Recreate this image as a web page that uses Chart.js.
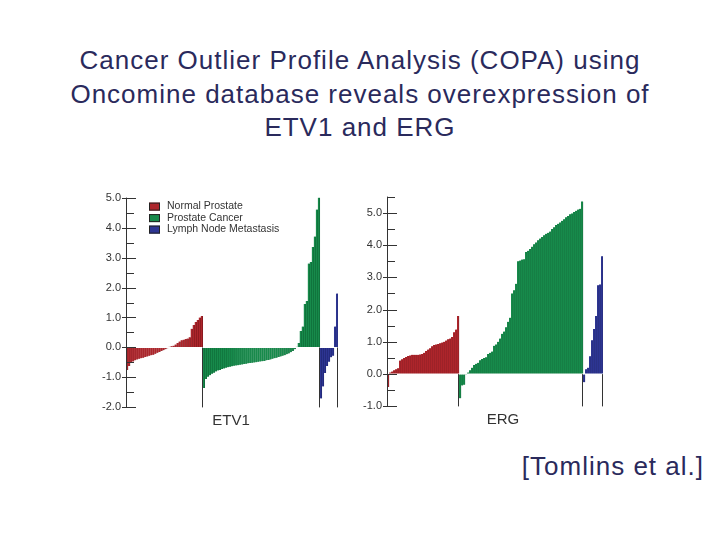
<!DOCTYPE html>
<html>
<head>
<meta charset="utf-8">
<script src="https://cdn.jsdelivr.net/npm/chart.js@4.4.0/dist/chart.umd.min.js"></script>
<style>
  body { margin: 0; background: #fff; }
  #page { position: relative; width: 720px; height: 540px; font-family: "Liberation Sans", Arial, sans-serif; color: #2a2a5c; }
  #title { position: absolute; left: 0; top: 44px; width: 720px; text-align: center; font-size: 26px; line-height: 33.5px; letter-spacing: 1px; }
  #cite { position: absolute; right: 16px; top: 451px; font-size: 26px; line-height: 30px; letter-spacing: 1px; }
  .axisname { position: absolute; font-size: 15px; color: #333; transform: translateX(-50%); }
  canvas { position: absolute; }
</style>
</head>
<body>
<div id="page">
  <div id="title">Cancer Outlier Profile Analysis (COPA) using<br>Oncomine database reveals overexpression of<br>ETV1 and ERG</div>
  <canvas id="etv1" width="250" height="233" style="left:90px; top:186px;"></canvas>
  <canvas id="erg" width="254" height="233" style="left:351px; top:185px;"></canvas>
  <div class="axisname" style="left:231px; top:411px;">ETV1</div>
  <div class="axisname" style="left:503px; top:410px;">ERG</div>
  <div id="cite">[Tomlins et al.]</div>
</div>
<script>
const groupNames = ["Normal Prostate", "Prostate Cancer", "Lymph Node Metastasis"];

// ETV1 outlier scores, sorted within each group
const etv1Normal = [-0.75, -0.62, -0.52, -0.47, -0.43, -0.40, -0.38, -0.36, -0.34, -0.32,
  -0.30, -0.28, -0.26, -0.24, -0.21, -0.18, -0.15, -0.12, -0.09, -0.06,
  -0.03, 0.02, 0.04, 0.06, 0.10, 0.15, 0.20, 0.24, 0.26, 0.28,
  0.30, 0.34, 0.62, 0.75, 0.85, 0.92, 1.00, 1.05];
const etv1Cancer = [-1.35, -1.05, -0.98, -0.93, -0.88, -0.84, -0.80, -0.77, -0.75, -0.72,
  -0.70, -0.68, -0.66, -0.64, -0.63, -0.61, -0.60, -0.59, -0.58, -0.57,
  -0.55, -0.54, -0.53, -0.52, -0.51, -0.50, -0.49, -0.48, -0.47, -0.46,
  -0.45, -0.43, -0.42, -0.40, -0.38, -0.36, -0.34, -0.32, -0.30, -0.28,
  -0.26, -0.23, -0.20, -0.16, -0.12, -0.06, 0.02, 0.15, 0.55, 0.70,
  1.45, 1.55, 2.80, 2.85, 3.35, 3.70, 4.60, 5.00];
const etv1Mets = [-1.70, -1.30, -0.85, -0.62, -0.48, -0.33, -0.28, 0.70, 1.80];

// ERG outlier scores
const ergNormal = [-0.40, 0.05, 0.08, 0.12, 0.15, 0.18, 0.42, 0.46, 0.50, 0.53,
  0.56, 0.58, 0.60, 0.60, 0.60, 0.60, 0.61, 0.62, 0.66, 0.72,
  0.76, 0.80, 0.86, 0.90, 0.92, 0.93, 0.96, 0.98, 1.00, 1.04,
  1.08, 1.10, 1.15, 1.30, 1.38, 1.80];
const ergCancer = [-0.75, -0.35, -0.33, -0.02, 0.05, 0.12, 0.20, 0.28, 0.32, 0.35,
  0.43, 0.47, 0.50, 0.52, 0.62, 0.66, 0.70, 0.88, 0.92, 1.00,
  1.10, 1.25, 1.32, 1.45, 1.62, 1.75, 2.50, 2.60, 2.80, 3.50,
  3.52, 3.55, 3.56, 3.78, 3.82, 3.88, 3.95, 4.02, 4.08, 4.15,
  4.20, 4.25, 4.30, 4.35, 4.38, 4.42, 4.50, 4.55, 4.62, 4.66,
  4.70, 4.75, 4.80, 4.86, 4.90, 4.95, 4.98, 5.02, 5.06, 5.10,
  5.12, 5.35];
const ergMets = [-0.25, 0.15, 0.20, 0.55, 1.05, 1.40, 1.80, 2.75, 2.78, 3.65];

const etv1Ticks = [-2, -1, 0, 1, 2, 3, 4, 5];
const ergTicks = [-1, 0, 1, 2, 3, 4, 5];

const fills = ["#ad252b", "#178a4b", "#2d3592"];
const edges = ["#6d1216", "#0b5a2e", "#181d5c"];
const tickFont = { family: "Liberation Sans, Arial, sans-serif", size: 11 };

// inward tick marks, group separators and the small legend
const decor = {
  id: "decor",
  afterDraw(chart, args, opts) {
    const { ctx, chartArea: a, scales: { x, y } } = chart;
    ctx.save();
    ctx.strokeStyle = "#333";
    ctx.lineWidth = 1;
    ctx.beginPath();
    ctx.moveTo(a.left + 0.5, y.getPixelForValue(y.max));
    ctx.lineTo(a.left + 0.5, y.getPixelForValue(y.min));
    y.ticks.forEach(t => {
      const py = Math.round(y.getPixelForValue(t.value)) + 0.5;
      const major = Number.isInteger(t.value);
      ctx.moveTo(a.left - (major ? 4 : 0), py);
      ctx.lineTo(a.left + (major ? 10 : 8), py);
    });
    // vertical separators from zero line down to axis bottom
    const n = chart.data.labels.length;
    const half = (a.right - a.left) / n / 2;
    const y0 = y.getPixelForValue(0);
    const yb = y.getPixelForValue(y.min);
    opts.bounds.forEach(b => {
      const px = Math.round(b < n ? x.getPixelForValue(b) - half : a.right) - 0.5;
      ctx.moveTo(px, y0);
      ctx.lineTo(px, yb);
    });
    ctx.stroke();
    if (opts.legend) {
      ctx.font = "10.5px Liberation Sans, Arial, sans-serif";
      ctx.textBaseline = "middle";
      chart.data.datasets.forEach((ds, i) => {
        const ly = a.top + 9 + i * 11.5;
        ctx.fillStyle = ds.backgroundColor;
        ctx.fillRect(a.left + 23, ly - 4, 11, 8);
        ctx.strokeStyle = "#222";
        ctx.strokeRect(a.left + 23.5, ly - 3.5, 10, 7);
        ctx.fillStyle = "#333";
        ctx.fillText(ds.label, a.left + 41, ly);
      });
    }
    ctx.restore();
  }
};

function makeChart(id, groups, yMin, yMax, majors, legend) {
  const labels = [];
  const datasets = groups.map((vals, g) => ({
    label: groupNames[g], data: [], backgroundColor: fills[g],
    borderColor: edges[g], borderWidth: { left: 0, right: 0.6, top: 0, bottom: 0 },
    barPercentage: 1, categoryPercentage: 1
  }));
  groups.forEach((vals, g) => {
    vals.forEach(v => {
      labels.push(String(labels.length + 1));
      datasets.forEach((ds, k) => ds.data.push(k === g ? v : null));
    });
  });
  const total = labels.length;
  const bounds = [groups[0].length, groups[0].length + groups[1].length, total];

  return new Chart(document.getElementById(id), {
    type: "bar",
    data: { labels, datasets },
    options: {
      responsive: false,
      animation: false,
      layout: { padding: { top: 10, right: 2, bottom: 6, left: 0 } },
      plugins: { legend: { display: false }, tooltip: { enabled: false }, decor: { bounds, legend } },
      scales: {
        x: { display: false, stacked: true },
        y: {
          stacked: false, min: yMin, max: yMax,
          afterFit(s) { s.width = 36; },
          afterBuildTicks(s) {
            const t = [];
            for (let v = yMin; v <= yMax + 1e-9; v += 0.5) t.push({ value: Math.round(v * 10) / 10 });
            s.ticks = t;
          },
          ticks: {
            font: tickFont, color: "#333", padding: 5, autoSkip: false,
            callback: v => majors.includes(v) ? v.toFixed(1) : ""
          },
          grid: { display: true, drawOnChartArea: false, drawTicks: false, tickLength: 0, color: "rgba(0,0,0,0)" },
          border: { display: false }
        }
      }
    },
    plugins: [decor]
  });
}

makeChart("etv1", [etv1Normal, etv1Cancer, etv1Mets], -2, 5, etv1Ticks, true);
makeChart("erg", [ergNormal, ergCancer, ergMets], -1, 5.5, ergTicks, false);
</script>
</body>
</html>
